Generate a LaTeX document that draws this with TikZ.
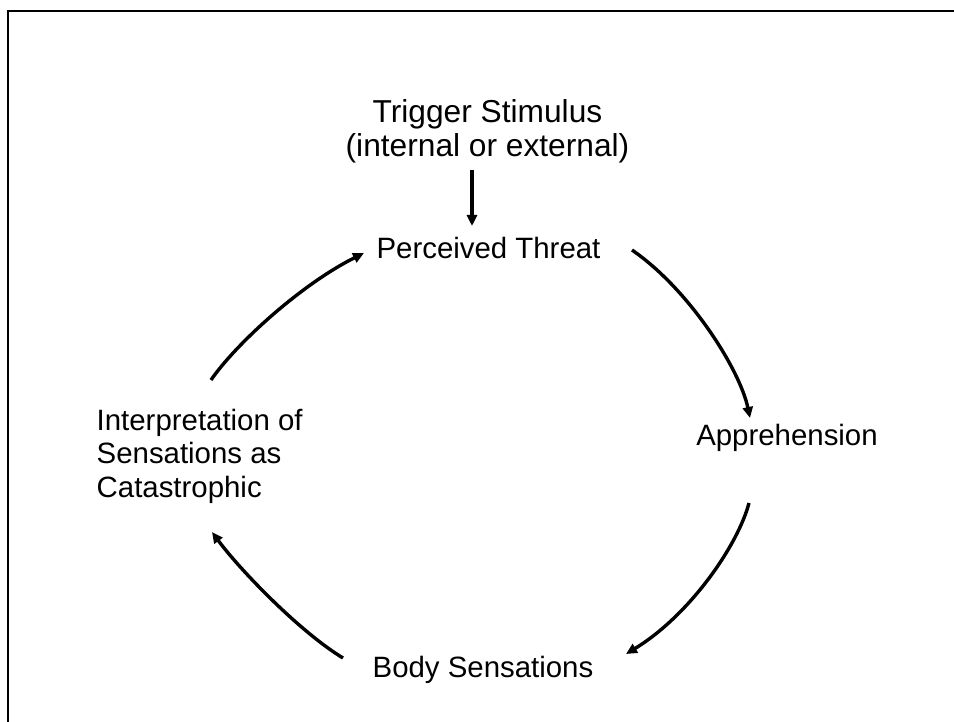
\documentclass[tikz,border=0pt]{standalone}
\usepackage{fontspec}
\setmainfont{Liberation Sans}
\usetikzlibrary{arrows.meta}
\begin{document}
\begin{tikzpicture}[x=1pt,y=-1pt,
  label/.style={inner sep=0pt,font=\fontsize{29.4}{33.5}\selectfont},
  flow/.style={line width=3.4pt,-{Triangle[length=11pt,width=10pt]}}]
\useasboundingbox (0,0) rectangle (954,722);
% open frame (only top and left edges fall inside the page)
\draw[line width=2.4pt] (8,730) -- (8,11) -- (960,11);

% labels (base anchor of a multi-line node sits on its last line)
\node[label,font=\fontsize{31.7}{34}\selectfont,align=center,anchor=base] (trig) at (487.5,157)
  {Trigger Stimulus\\(internal or external)};
\node[label,anchor=base] (perc) at (488.5,259) {Perceived Threat};
\node[label,anchor=base] (appr) at (787,445) {Apprehension};
\node[label,anchor=base] (body) at (483,677) {Body Sensations};
\node[label,align=left,anchor=base west] (interp) at (96.5,497)
  {Interpretation of\\Sensations as\\Catastrophic};

% connector end points
\coordinate (t1) at (472,170);
\coordinate (t2) at (472,226);
\coordinate (a1) at (632,250);
\coordinate (a2) at (750,418);
\coordinate (b1) at (749,503);
\coordinate (b2) at (626,654);
\coordinate (c1) at (343,658);
\coordinate (c2) at (212,532);
\coordinate (d1) at (211,380);
\coordinate (d2) at (364,253);

% connectors
\draw[flow] (t1) -- (t2);
\draw[flow] (a1) .. controls (690,290) and (740,370) .. (a2);
\draw[flow] (b1) .. controls (738,545) and (690,615) .. (b2);
\draw[flow] (c1) .. controls (300,632) and (240,570) .. (c2);
\draw[flow] (d1) .. controls (235,345) and (300,285) .. (d2);
\end{tikzpicture}
\end{document}
